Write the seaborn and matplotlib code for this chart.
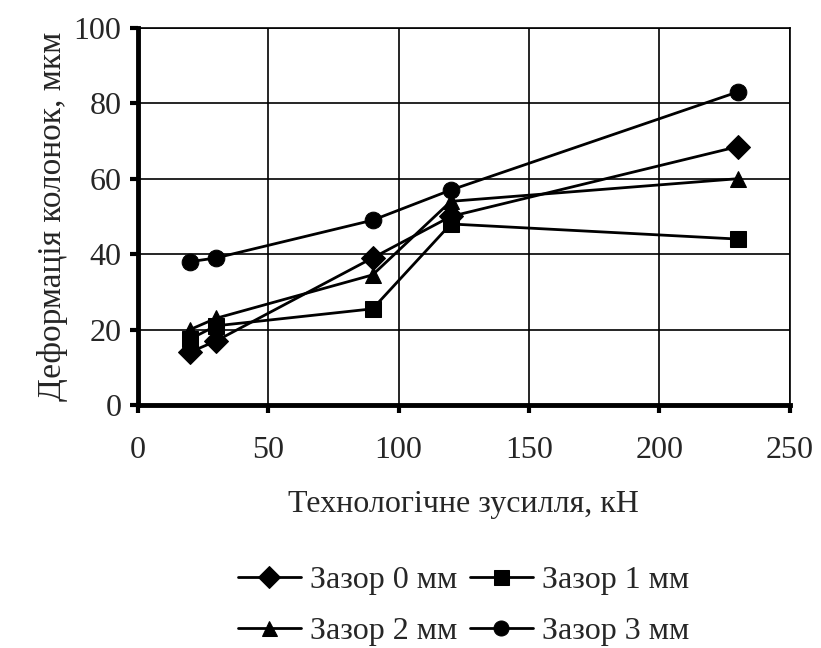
import pandas as pd
import seaborn as sns
import matplotlib.pyplot as plt

# Data
force = [20, 30, 90, 120, 230]
gap_0 = [14, 17, 39, 50, 68.5]
gap_1 = [17.5, 21, 25.5, 48, 44]
gap_2 = [20, 23, 34.5, 54, 60]
gap_3 = [38, 39, 49, 57, 83]
series_names = ['Зазор 0 мм', 'Зазор 1 мм', 'Зазор 2 мм', 'Зазор 3 мм']

rows = []
for name, vals in zip(series_names, [gap_0, gap_1, gap_2, gap_3]):
    for f, v in zip(force, vals):
        rows.append({'force': f, 'deform': v, 'series': name})
df = pd.DataFrame(rows)

sns.set_style('white')
plt.rcParams['font.family'] = ['Liberation Serif', 'DejaVu Serif']

fig = plt.figure(figsize=(8.21, 6.48), dpi=100)
ax = fig.add_axes([0.168, 0.375, 0.794, 0.582])

sns.lineplot(
    data=df, x='force', y='deform', hue='series', style='series',
    palette=['black'] * 4,
    markers={'Зазор 0 мм': 'D', 'Зазор 1 мм': 's', 'Зазор 2 мм': '^', 'Зазор 3 мм': 'o'},
    dashes=False, markersize=12, linewidth=2, markeredgecolor='black',
    ax=ax
)

ax.set_xlim(0, 250)
ax.set_ylim(0, 100)
ax.set_xticks(range(0, 251, 50))
ax.set_yticks(range(0, 101, 20))
ax.grid(True, color='black', linewidth=1.2)
ax.tick_params(axis='both', labelsize=23, direction='out', length=6, width=3,
               color='black')
ax.tick_params(axis='x', bottom=True, pad=16)
ax.tick_params(axis='y', left=True, pad=6)
for side in ['left', 'bottom']:
    ax.spines[side].set_linewidth(3.5)
    ax.spines[side].set_color('black')
for side in ['top', 'right']:
    ax.spines[side].set_linewidth(1.2)
    ax.spines[side].set_color('black')

ax.set_xlabel('Технологічне зусилля, кН', fontsize=23, labelpad=18)
ax.set_ylabel('Деформація колонок, мкм', fontsize=24, labelpad=4)

# legend is filled row by row in the reference
handles, labels = ax.get_legend_handles_labels()
order = [0, 2, 1, 3]
ax.legend([handles[i] for i in order], [labels[i] for i in order],
          loc='upper center', bbox_to_anchor=(0.5, -0.366), ncol=2, frameon=False,
          fontsize=23, handlelength=1.95, handletextpad=0.3, columnspacing=0.4,
          labelspacing=0.7, markerscale=0.9, borderpad=0.2)

fig.savefig('out.png', dpi=100)
